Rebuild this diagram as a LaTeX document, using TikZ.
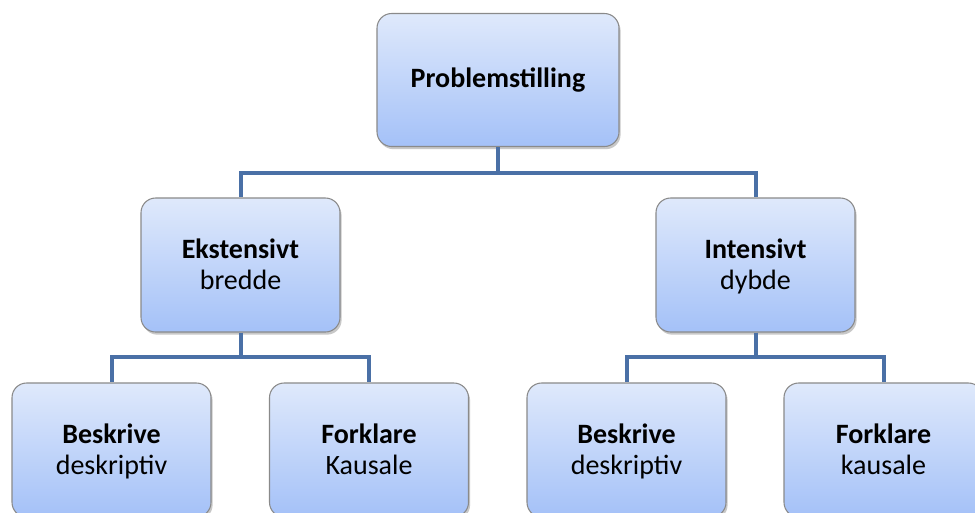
\documentclass[tikz,border=0pt]{standalone}
\usepackage{fontspec}
\setmainfont{Carlito}
\usetikzlibrary{shadows}
\definecolor{boxtop}{HTML}{DFE9FB}
\definecolor{boxbot}{HTML}{A4C1F8}
\definecolor{boxedge}{HTML}{8A8A8A}
\definecolor{linkcol}{HTML}{4A70A6}
\newcommand{\firststrut}{\rule{0pt}{20.5pt}}
\tikzset{
  box/.style={draw=boxedge, line width=0.8pt, rounded corners=11pt,
    top color=boxtop, bottom color=boxbot, align=center,
    minimum width=149.25pt, minimum height=100.5pt, inner sep=2pt,
    font=\fontsize{21}{23.5}\selectfont,
    drop shadow={shadow xshift=1.2pt, shadow yshift=-2pt, opacity=0.3, fill=black!70}},
  topbox/.style={box, minimum width=181.5pt, minimum height=99.75pt},
  link/.style={draw=linkcol, line width=3pt}
}
\begin{document}
\begin{tikzpicture}[x=0.75pt, y=-0.75pt]
  \useasboundingbox (0,0) rectangle (975,512);
  \clip (0,0) rectangle (975,512);
  \fill[white] (0,0) rectangle (975,512);
  \node[topbox] (top) at (498,80) {\textbf{Problemstilling}};
  \node[box] (ml) at (240.5,265) {\firststrut\textbf{Ekstensivt}\\\strut bredde};
  \node[box] (mr) at (755.5,265) {\firststrut\textbf{Intensivt}\\\strut dybde};
  \node[box] (b1) at (111.5,450) {\firststrut\textbf{Beskrive}\\\strut deskriptiv};
  \node[box] (b2) at (369,450) {\firststrut\textbf{Forklare}\\\strut Kausale};
  \node[box] (b3) at (626.5,450) {\firststrut\textbf{Beskrive}\\\strut deskriptiv};
  \node[box] (b4) at (883.5,450) {\firststrut\textbf{Forklare}\\\strut kausale};
  \coordinate (bus1) at (0,173);
  \coordinate (bus2) at (0,357);
  \draw[link] (top.south) -- (top.south |- bus1) -| (ml.north);
  \draw[link] (top.south |- bus1) -| (mr.north);
  \draw[link] (ml.south) -- (ml.south |- bus2) -| (b1.north);
  \draw[link] (ml.south |- bus2) -| (b2.north);
  \draw[link] (mr.south) -- (mr.south |- bus2) -| (b3.north);
  \draw[link] (mr.south |- bus2) -| (b4.north);
\end{tikzpicture}
\end{document}
